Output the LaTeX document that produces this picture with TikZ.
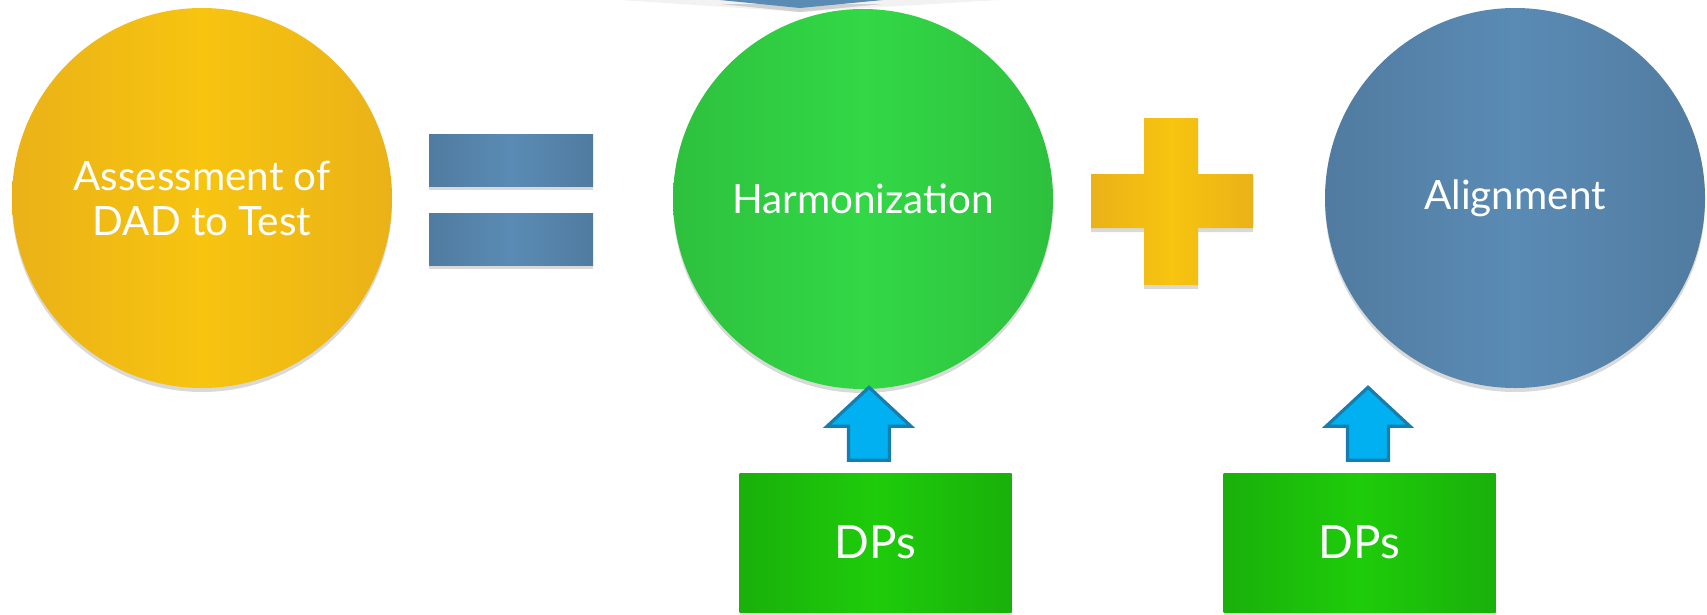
\documentclass[tikz,border=0pt]{standalone}
\usepackage{fontspec}
\setmainfont{Lato}
\usetikzlibrary{shadows,calc}
\definecolor{sunyellow}{RGB}{247,196,16}
\definecolor{sundark}{RGB}{234,178,24}
\definecolor{leafgreen}{RGB}{50,216,70}
\definecolor{leafdark}{RGB}{46,192,62}
\definecolor{steelblue}{RGB}{90,139,180}
\definecolor{steeldark}{RGB}{81,123,160}
\definecolor{boxgreen}{RGB}{30,204,10}
\definecolor{boxdark}{RGB}{25,176,10}
\definecolor{skyfill}{RGB}{0,176,240}
\definecolor{skyline}{RGB}{22,125,175}

\tikzset{
  bigdisc/.style={circle, minimum size=3.8cm, inner sep=0pt, text=white,
    align=center, font=\fontsize{11.5}{12.8}\selectfont,
    drop shadow={opacity=0.3, shadow xshift=0cm, shadow yshift=-0.04cm}},
  dpbox/.style={rectangle, minimum width=2.72cm, minimum height=1.39cm,
    inner sep=0pt, text=white, font=\fontsize{13}{15}\selectfont,
    left color=boxdark, right color=boxdark, middle color=boxgreen,
    drop shadow={opacity=0.25, shadow xshift=0cm, shadow yshift=-0.03cm}},
  signbar/.style={drop shadow={opacity=0.3, shadow xshift=0cm, shadow yshift=-0.04cm}},
  blockup/.pic={
    \draw[skyline, fill=skyfill, line width=0.9pt, line join=miter]
      (-0.205,0) -- (0.205,0) -- (0.205,0.34) -- (0.42,0.34) -- (0,0.73)
      -- (-0.42,0.34) -- (-0.205,0.34) -- cycle;
  }
}

\begin{document}
\begin{tikzpicture}
  \useasboundingbox (0,0) rectangle (17.07,6.14);

  % piece of a shape cut off at the top
  \fill[black, opacity=0.05] (6.2,6.14) -- (8.0,6.02) -- (10.0,6.14) -- cycle;
  \fill[steelblue, signbar] (7.20,6.14) -- (8.00,6.06) -- (8.83,6.14) -- cycle;

  \node[bigdisc, left color=sundark, right color=sundark, middle color=sunyellow]
    (dad) at (2.02,4.16) {Assessment of\\DAD to Test};
  \node[bigdisc, left color=leafdark, right color=leafdark, middle color=leafgreen]
    (harm) at (8.63,4.15) {Harmonization};
  \node[bigdisc, left color=steeldark, right color=steeldark, middle color=steelblue]
    (align) at (15.15,4.16) {Alignment};

  % equals sign
  \shade[signbar, left color=steeldark, right color=steeldark, middle color=steelblue]
    (4.29,4.80) rectangle (5.93,4.28);
  \shade[signbar, left color=steeldark, right color=steeldark, middle color=steelblue]
    (4.29,4.01) rectangle (5.93,3.49);

  % plus sign
  \shade[signbar, left color=sundark, right color=sundark, middle color=sunyellow]
    (11.44,4.96) -- (11.98,4.96) -- (11.98,4.40) -- (12.53,4.40) -- (12.53,3.86)
    -- (11.98,3.86) -- (11.98,3.29) -- (11.44,3.29) -- (11.44,3.86) -- (10.91,3.86)
    -- (10.91,4.40) -- (11.44,4.40) -- cycle;

  \node[dpbox] (dpa) at (8.755,0.715) {DPs};
  \node[dpbox] (dpb) at (13.595,0.715) {DPs};

  \pic at ($(dpa.north)+(-0.065,0.12)$) {blockup};
  \pic at ($(dpb.north)+(0.085,0.12)$) {blockup};
\end{tikzpicture}
\end{document}
